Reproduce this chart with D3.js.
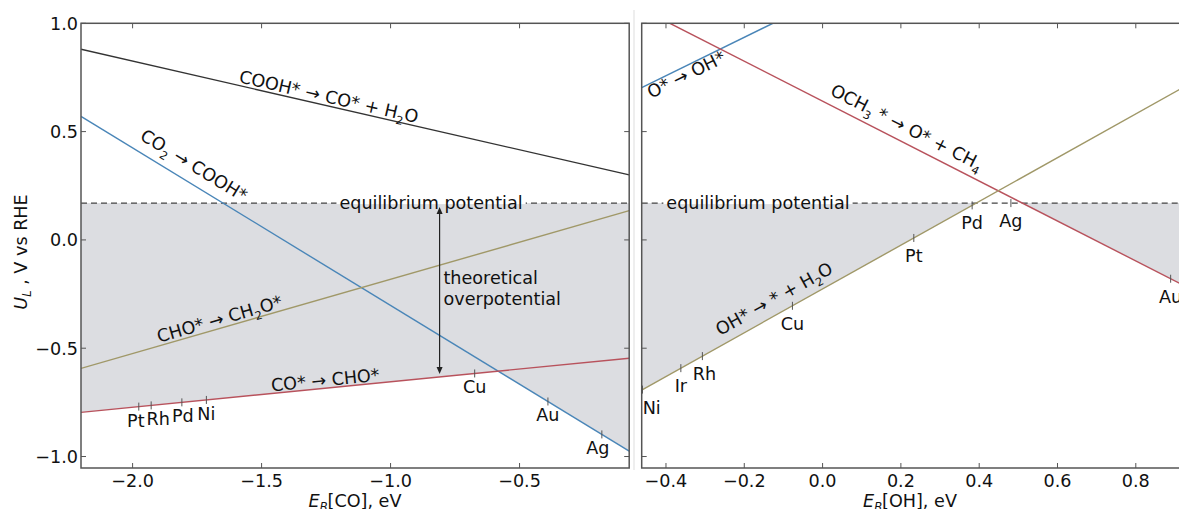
<!DOCTYPE html>
<html>
<head>
<meta charset="utf-8">
<script src="https://cdn.jsdelivr.net/npm/d3@7"></script>
<style>
  body { margin: 0; background: #fff; }
  text { font-family: "DejaVu Sans", sans-serif; fill: #111; }
</style>
</head>
<body>
<div id="chart"></div>
<script>
const width = 1179, height = 509;

// ---- data ----
const eqPotential = 0.17;
const yTicks = [-1.0, -0.5, 0.0, 0.5, 1.0];

// left panel: CO binding energy
const coTicksX = [-2.0, -1.5, -1.0, -0.5];
const coSteps = ["COOH* → CO* + H_2O", "CO_2 → COOH*", "CHO* → CH_2O*", "CO* → CHO*"];
const coLines = [
  [[-2.2, 0.88], [-0.075, 0.30]],
  [[-2.2, 0.57], [-0.075, -0.975]],
  [[-2.2, -0.593], [-0.075, 0.135]],
  [[-2.2, -0.796], [-0.075, -0.546]]
];
const coMetals = ["Pt", "Rh", "Pd", "Ni", "Cu", "Au", "Ag"];
const coMetalX = [-1.976, -1.928, -1.809, -1.714, -0.674, -0.39, -0.181];
const arrowX = -0.81;

// right panel: OH binding energy
const ohTicksX = [-0.4, -0.2, 0.0, 0.2, 0.4, 0.6, 0.8];
const ohSteps = ["O* → OH*", "OCH_3 * → O* + CH_4", "OH* → * + H_2O"];
const ohLines = [
  [[-0.462, 0.703], [-0.127, 1.0]],
  [[-0.39, 1.0], [0.93, -0.217]],
  [[-0.462, -0.693], [0.93, 0.713]]
];
const ohMetals = ["Ni", "Ir", "Rh", "Cu", "Pt", "Pd", "Ag", "Au"];
const ohMetalX = [-0.46, -0.362, -0.307, -0.077, 0.233, 0.382, 0.481, 0.889];

// ---- styles / label placement ----
const coColors = ["#333333", "#4a86b8", "#a09868", "#b8525c"];
const ohColors = ["#4a86b8", "#b8525c", "#a09868"];
const coLabelAt = [[-1.247, -3], [-1.797, -11], [-1.653, -3], [-1.25, -2]];
const ohLabelAt = [[-0.357, 14], [0.198, -9], [-0.105, -9]];
const coMetalDx = [-3, 7, 1, 0, 0, 0, -4];
const ohMetalDx = [0, 0, 2, 0, 0, 0, 0, 0];
const fs = 17.6;

const svg = d3.select("#chart").append("svg")
  .attr("width", width).attr("height", height)
  .attr("viewBox", [0, 0, width, height]);

const y = d3.scaleLinear().domain([-1.053, 1.0]).range([468, 23.3]);

// text with _x subscripts
function rich(sel, str, size) {
  let buf = "", dy = 0;
  const put = (t, opts) => {
    const ts = sel.append("tspan").text(t);
    if (opts.dy) ts.attr("dy", opts.dy);
    if (opts.small) ts.attr("font-size", size * 0.65);
  };
  const flush = () => { if (buf) { put(buf, {dy: dy}); dy = 0; buf = ""; } };
  for (let i = 0; i < str.length; i++) {
    if (str[i] === "_") {
      flush();
      put(str[i + 1], {dy: size * 0.3, small: true});
      dy = -size * 0.3;
      i++;
    } else buf += str[i];
  }
  flush();
}

function lineCoef(p) {
  const b = (p[1][1] - p[0][1]) / (p[1][0] - p[0][0]);
  return {a: p[0][1] - b * p[0][0], b: b};
}

function lowerEnvelope(lines, dom, eq) {
  const cs = lines.map(lineCoef).concat([{a: eq, b: 0}]);
  const xs = [dom[0], dom[1]];
  for (let i = 0; i < cs.length; i++)
    for (let j = i + 1; j < cs.length; j++) {
      if (cs[i].b === cs[j].b) continue;
      const xi = (cs[j].a - cs[i].a) / (cs[i].b - cs[j].b);
      if (xi > dom[0] && xi < dom[1]) xs.push(xi);
    }
  xs.sort((p, q) => p - q);
  return xs.map(v => [v, d3.min(cs, c => c.a + c.b * v)]);
}

function panel(cfg) {
  const x = cfg.x;
  const dom = x.domain();
  const [x0, x1] = x.range();
  const [yb, yt] = y.range();
  const g = svg.append("g");
  const clipId = "clip" + cfg.id;
  svg.append("clipPath").attr("id", clipId)
    .append("rect").attr("x", x0).attr("y", yt).attr("width", x1 - x0).attr("height", yb - yt);
  const pg = g.append("g").attr("clip-path", `url(#${clipId})`);

  // shaded region between equilibrium potential and limiting steps
  const env = lowerEnvelope(cfg.lines, dom, eqPotential);
  const area = d3.area().x(d => x(d[0])).y0(d => y(d[1])).y1(() => y(eqPotential));
  pg.append("path").datum(env).attr("d", area).attr("fill", "#dcdde1");

  // dashed equilibrium line
  pg.append("line")
    .attr("x1", x0).attr("x2", x1)
    .attr("y1", y(eqPotential)).attr("y2", y(eqPotential))
    .attr("stroke", "#444").attr("stroke-width", 1.3).attr("stroke-dasharray", "6,4");

  // step lines
  const line = d3.line().x(d => x(d[0])).y(d => y(d[1]));
  pg.selectAll("path.step").data(cfg.lines).enter().append("path")
    .attr("class", "step")
    .attr("d", line).attr("fill", "none")
    .attr("stroke", (d, i) => cfg.colors[i]).attr("stroke-width", 1.4);

  // equilibrium label with white box
  const eqText = g.append("text")
    .attr("x", x(cfg.eqLabelX)).attr("y", y(eqPotential) + 6)
    .attr("text-anchor", "middle").attr("font-size", fs)
    .text("equilibrium potential");
  const bb = eqText.node().getBBox();
  g.insert("rect", "text")
    .attr("x", bb.x - 3).attr("y", bb.y).attr("width", bb.width + 6)
    .attr("height", y(eqPotential) - bb.y + 1).attr("fill", "#fff");
  eqText.raise();

  // step labels along lines
  cfg.lines.forEach((p, i) => {
    const c = lineCoef(p);
    const [lx, off] = cfg.labelAt[i];
    const px = x(lx), py = y(c.a + c.b * lx);
    const ang = Math.atan2(y(c.a + c.b * (lx + 0.1)) - py, x(lx + 0.1) - px) * 180 / Math.PI;
    const t = g.append("text")
      .attr("transform", `translate(${px},${py}) rotate(${ang})`)
      .attr("y", off).attr("text-anchor", "middle").attr("font-size", fs);
    rich(t, cfg.steps[i], fs);
  });

  // metal markers on the limiting potential
  const cs = cfg.lines.map(lineCoef);
  const lim = v => Math.min(eqPotential, d3.min(cs, c => c.a + c.b * v));
  cfg.metalX.forEach((v, i) => {
    const px = x(v), py = y(lim(v));
    g.append("line").attr("x1", px).attr("x2", px).attr("y1", py - 4).attr("y2", py + 4)
      .attr("stroke", "#555").attr("stroke-width", 1);
    const nearEdge = px - x0 < 10;
    g.append("text")
      .attr("x", nearEdge ? x0 + 1 : px + cfg.metalDx[i]).attr("y", py + cfg.metalDy)
      .attr("text-anchor", nearEdge ? "start" : "middle")
      .attr("font-size", fs).text(cfg.metals[i]);
  });

  // ticks (inward, all sides)
  const tk = 5;
  cfg.ticksX.forEach(v => {
    g.append("line").attr("x1", x(v)).attr("x2", x(v)).attr("y1", yb).attr("y2", yb - tk).attr("stroke", "#555");
    g.append("line").attr("x1", x(v)).attr("x2", x(v)).attr("y1", yt).attr("y2", yt + tk).attr("stroke", "#555");
    g.append("text").attr("x", x(v)).attr("y", yb + 19).attr("text-anchor", "middle")
      .attr("font-size", fs).text(d3.format(".1f")(v).replace("-", "−"));
  });
  yTicks.forEach(v => {
    g.append("line").attr("x1", x0).attr("x2", x0 + tk).attr("y1", y(v)).attr("y2", y(v)).attr("stroke", "#555");
    g.append("line").attr("x1", x1).attr("x2", x1 - tk).attr("y1", y(v)).attr("y2", y(v)).attr("stroke", "#555");
    if (cfg.yLabels)
      g.append("text").attr("x", x0 - 3).attr("y", y(v) + 6.5).attr("text-anchor", "end")
        .attr("font-size", fs).text(d3.format(".1f")(v).replace("-", "−"));
  });

  // frame
  g.append("rect").attr("x", x0).attr("y", yt).attr("width", x1 - x0).attr("height", yb - yt)
    .attr("fill", "none").attr("stroke", "#555").attr("stroke-width", 1.5);

  // x axis title
  const xt = g.append("text").attr("x", cfg.titleX).attr("y", 507)
    .attr("text-anchor", "middle").attr("font-size", fs);
  xt.append("tspan").attr("font-style", "italic").text("E");
  xt.append("tspan").attr("font-style", "italic").attr("font-size", fs * 0.65).attr("dy", 4).text("B");
  xt.append("tspan").attr("dy", -4).text(cfg.title);
  return g;
}

// left panel
const xL = d3.scaleLinear().domain([-2.2, -0.075]).range([81, 629.2]);
const gl = panel({
  id: "L", x: xL, lines: coLines, colors: coColors, steps: coSteps, labelAt: coLabelAt,
  metals: coMetals, metalX: coMetalX, metalDx: coMetalDx, metalDy: 20, ticksX: coTicksX, yLabels: true,
  eqLabelX: -0.843, titleX: 355, title: "[CO], eV"
});

// theoretical overpotential arrow
const redC = lineCoef(coLines[3]);
const ax = xL(arrowX), ayTop = y(eqPotential) + 4, ayBot = y(redC.a + redC.b * arrowX) - 3;
gl.append("line").attr("x1", ax).attr("x2", ax).attr("y1", ayTop + 6).attr("y2", ayBot - 6)
  .attr("stroke", "#222").attr("stroke-width", 1.2);
gl.append("path").attr("d", `M${ax},${ayTop} l-3,7 l6,0 z`).attr("fill", "#222");
gl.append("path").attr("d", `M${ax},${ayBot} l-3,-7 l6,0 z`).attr("fill", "#222");
gl.append("text").attr("x", xL(-0.795)).attr("y", y(-0.203)).attr("font-size", fs).text("theoretical");
gl.append("text").attr("x", xL(-0.795)).attr("y", y(-0.30)).attr("font-size", fs).text("overpotential");

// right panel
const xR = d3.scaleLinear().domain([-0.462, 0.93]).range([641.7, 1186.7]);
panel({
  id: "R", x: xR, lines: ohLines, colors: ohColors, steps: ohSteps, labelAt: ohLabelAt,
  metals: ohMetals, metalX: ohMetalX, metalDx: ohMetalDx, metalDy: 24, ticksX: ohTicksX, yLabels: false,
  eqLabelX: -0.165, titleX: 910, title: "[OH], eV"
});

// faint separator between the panels
svg.append("line").attr("x1", 634).attr("x2", 634).attr("y1", 10).attr("y2", 470)
  .attr("stroke", "#ddd").attr("stroke-width", 1);

// y axis title
const yt = svg.append("text")
  .attr("transform", "translate(27,252) rotate(-90)")
  .attr("text-anchor", "middle").attr("font-size", fs);
yt.append("tspan").attr("font-style", "italic").text("U");
yt.append("tspan").attr("font-style", "italic").attr("font-size", fs * 0.65).attr("dy", 4).text("L");
yt.append("tspan").attr("dy", -4).text(" , V vs RHE");
</script>
</body>
</html>
